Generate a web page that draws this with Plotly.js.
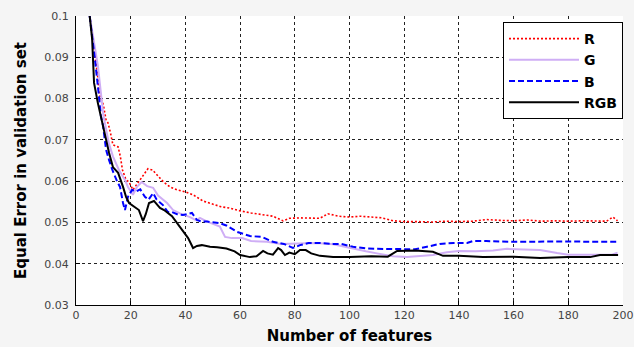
<!DOCTYPE html>
<html>
<head>
<meta charset="utf-8">
<script src="https://cdn.plot.ly/plotly-3.0.1.min.js"></script>
<style>html,body{margin:0;padding:0;background:#f5f5f5;}#chart{width:634px;height:347px;}</style>
</head>
<body>
<div id="chart"></div>
<script>
// ---- data ----
const seriesNames = ["R", "G", "B", "RGB"];

const rX = [5, 6, 7, 8, 8.5, 10, 11, 11.7, 12.5, 13.5, 15.4, 16.2, 17, 18.3, 19.4, 20.8, 22, 24.5, 26.3, 28, 30.5, 32, 34.4, 37, 40, 42.8, 46.4, 50, 53, 56, 60, 64, 68.4, 72, 75.7, 78, 82, 86, 89.2, 92.1, 96, 100, 104, 108, 112, 116, 120, 125, 130, 135, 140, 145, 150, 155, 160, 165, 170, 175, 180, 185, 190, 194, 196.3, 198];
const rY = [0.1, 0.095, 0.09, 0.085, 0.081, 0.0785, 0.0748, 0.0741, 0.072, 0.0688, 0.0683, 0.066, 0.0627, 0.0603, 0.0598, 0.0579, 0.059, 0.0615, 0.063, 0.0627, 0.0608, 0.0598, 0.0586, 0.0579, 0.0574, 0.0567, 0.0552, 0.0545, 0.0538, 0.0535, 0.0528, 0.0523, 0.0518, 0.0515, 0.0504, 0.051, 0.0511, 0.0511, 0.051, 0.0521, 0.0515, 0.0513, 0.0515, 0.0513, 0.0511, 0.0504, 0.0502, 0.0502, 0.0501, 0.0503, 0.0502, 0.0503, 0.0507, 0.0505, 0.0504, 0.0506, 0.0503, 0.0504, 0.0503, 0.0504, 0.0503, 0.0503, 0.0513, 0.0504];

const gX = [5, 6, 7, 8, 9, 10, 12, 13.5, 15.7, 17.9, 19, 20.8, 22.3, 24, 26, 28.2, 30, 33.3, 35.5, 38, 41.7, 44, 45.3, 48, 52.6, 54.5, 57, 60.7, 64, 69.8, 75, 81.9, 88, 94, 98, 101.3, 106, 110, 115.9, 121, 126, 130.5, 135.6, 140, 146, 152.5, 157.6, 163, 169.7, 175.9, 180, 186, 192, 196, 198];
const gY = [0.1, 0.096, 0.092, 0.088, 0.082, 0.076, 0.0692, 0.066, 0.0627, 0.0603, 0.0586, 0.0567, 0.0586, 0.0598, 0.0588, 0.0584, 0.0565, 0.0547, 0.053, 0.0522, 0.0513, 0.0505, 0.0511, 0.0502, 0.049, 0.0465, 0.0462, 0.0462, 0.0455, 0.0453, 0.0448, 0.045, 0.045, 0.0447, 0.0441, 0.0436, 0.043, 0.0425, 0.0418, 0.0416, 0.0419, 0.0421, 0.0428, 0.0431, 0.043, 0.0432, 0.0436, 0.0434, 0.0433, 0.0426, 0.0422, 0.0422, 0.0422, 0.0422, 0.0427];

const bX = [5, 6, 7, 8, 9.1, 9.9, 11, 12.1, 13.3, 15, 16.1, 17.2, 17.9, 19, 20.5, 22, 23.5, 25.2, 26.5, 28.2, 29.5, 31.8, 33.6, 35.1, 37, 39.1, 42.4, 44.2, 46, 48, 50.1, 52.6, 55.2, 58.9, 63.6, 68, 72, 76, 79.3, 81.9, 85, 89.2, 94, 97, 101.3, 106, 110, 114.8, 120, 124, 128.3, 133, 138, 143, 145.2, 150, 160, 170, 180, 190, 198];
const bY = [0.1, 0.095, 0.089, 0.083, 0.0758, 0.0734, 0.0676, 0.0651, 0.0627, 0.06, 0.0586, 0.0547, 0.053, 0.0562, 0.0579, 0.0575, 0.058, 0.0562, 0.0555, 0.0571, 0.0555, 0.0542, 0.0525, 0.0525, 0.052, 0.0518, 0.0523, 0.0506, 0.0502, 0.0502, 0.0501, 0.0498, 0.0492, 0.0477, 0.0467, 0.0465, 0.0453, 0.0448, 0.0438, 0.0445, 0.045, 0.045, 0.0448, 0.0448, 0.0441, 0.0437, 0.0436, 0.0436, 0.0435, 0.0435, 0.0441, 0.0448, 0.045, 0.045, 0.0455, 0.0455, 0.0453, 0.0454, 0.0454, 0.0453, 0.0453];

const kX = [5, 5.9, 6.2, 6.6, 8, 9.1, 11, 12.1, 13.5, 15.4, 17.2, 18.3, 19.4, 21.2, 23, 24.5, 25.5, 26.7, 28.5, 30.7, 32.2, 35.1, 38.8, 41, 42.8, 44.2, 46, 49, 51.6, 55, 58, 60, 63.6, 66, 68.4, 70, 72, 73.9, 75, 76.4, 78, 80, 81.9, 84, 86, 89.2, 94, 100, 108, 114, 117.4, 124, 130.5, 134.2, 140, 148.8, 160, 169.7, 180, 188, 191.6, 198.2];
const kY = [0.1, 0.0944, 0.0898, 0.0838, 0.0789, 0.0755, 0.07, 0.0668, 0.0634, 0.062, 0.0586, 0.0562, 0.0547, 0.0538, 0.053, 0.0503, 0.052, 0.0547, 0.0552, 0.0535, 0.053, 0.0515, 0.048, 0.0462, 0.0438, 0.0443, 0.0445, 0.0441, 0.044, 0.0437, 0.043, 0.0421, 0.0416, 0.0418, 0.0431, 0.0425, 0.0422, 0.0438, 0.0433, 0.0421, 0.0427, 0.0423, 0.0433, 0.0433, 0.0425, 0.0419, 0.0416, 0.0416, 0.0418, 0.0417, 0.0431, 0.0432, 0.0429, 0.0419, 0.0419, 0.0416, 0.0417, 0.0414, 0.0416, 0.0416, 0.0421, 0.0421];

const xTicks = [0, 20, 40, 60, 80, 100, 120, 140, 160, 180, 200];
const yTicks = [0.03, 0.04, 0.05, 0.06, 0.07, 0.08, 0.09, 0.1];
const yTickText = ["0.03", "0.04", "0.05", "0.06", "0.07", "0.08", "0.09", "0.1"];

// ---- chart ----
const traces = [
  {x: rX, y: rY, name: seriesNames[0], mode: "lines", line: {color: "#ff0000", width: 1.6, dash: "2px,2px"}},
  {x: gX, y: gY, name: seriesNames[1], mode: "lines", line: {color: "#cfaef5", width: 2}},
  {x: bX, y: bY, name: seriesNames[2], mode: "lines", line: {color: "#0000ff", width: 2, dash: "6px,3px"}},
  {x: kX, y: kY, name: seriesNames[3], mode: "lines", line: {color: "#000000", width: 2}}
];

const axisFont = {family: "DejaVu Sans, sans-serif", size: 11, color: "#444444"};
const titleFont = {family: "DejaVu Sans, sans-serif", size: 15, color: "#000000", weight: "bold"};

const layout = {
  width: 634, height: 347,
  paper_bgcolor: "#f5f5f5",
  plot_bgcolor: "#ffffff",
  margin: {l: 76, r: 11, t: 16, b: 42},
  showlegend: true,
  legend: {
    x: 1, xanchor: "right", y: 0.979, yanchor: "top",
    bgcolor: "#ffffff", bordercolor: "#000000", borderwidth: 1,
    font: {family: "DejaVu Sans, sans-serif", size: 14, color: "#000000", weight: "bold"},
    itemwidth: 70, entrywidth: 130, entrywidthmode: "pixels", tracegroupgap: 0
  },
  xaxis: {
    range: [0, 200], tickvals: xTicks, ticktext: xTicks.map(String),
    showline: true, linecolor: "#000000", linewidth: 1,
    ticks: "inside", ticklen: 4, tickcolor: "#000000",
    showgrid: true, gridcolor: "#222222", gridwidth: 1, griddash: "3px,3px",
    zeroline: false, tickfont: axisFont, automargin: false,
    title: {text: "Number of features", font: titleFont, standoff: 9}
  },
  yaxis: {
    range: [0.03, 0.1], tickvals: yTicks, ticktext: yTickText,
    showline: true, linecolor: "#000000", linewidth: 1,
    ticks: "inside", ticklen: 4, tickcolor: "#000000",
    showgrid: true, gridcolor: "#222222", gridwidth: 1, griddash: "3px,3px",
    zeroline: false, tickfont: axisFont, automargin: false,
    ticklabelstandoff: 4,
    title: {text: "Equal Error in validation set", font: titleFont, standoff: 14}
  }
};

Plotly.newPlot("chart", traces, layout, {displayModeBar: false, staticPlot: true});
</script>
</body>
</html>
